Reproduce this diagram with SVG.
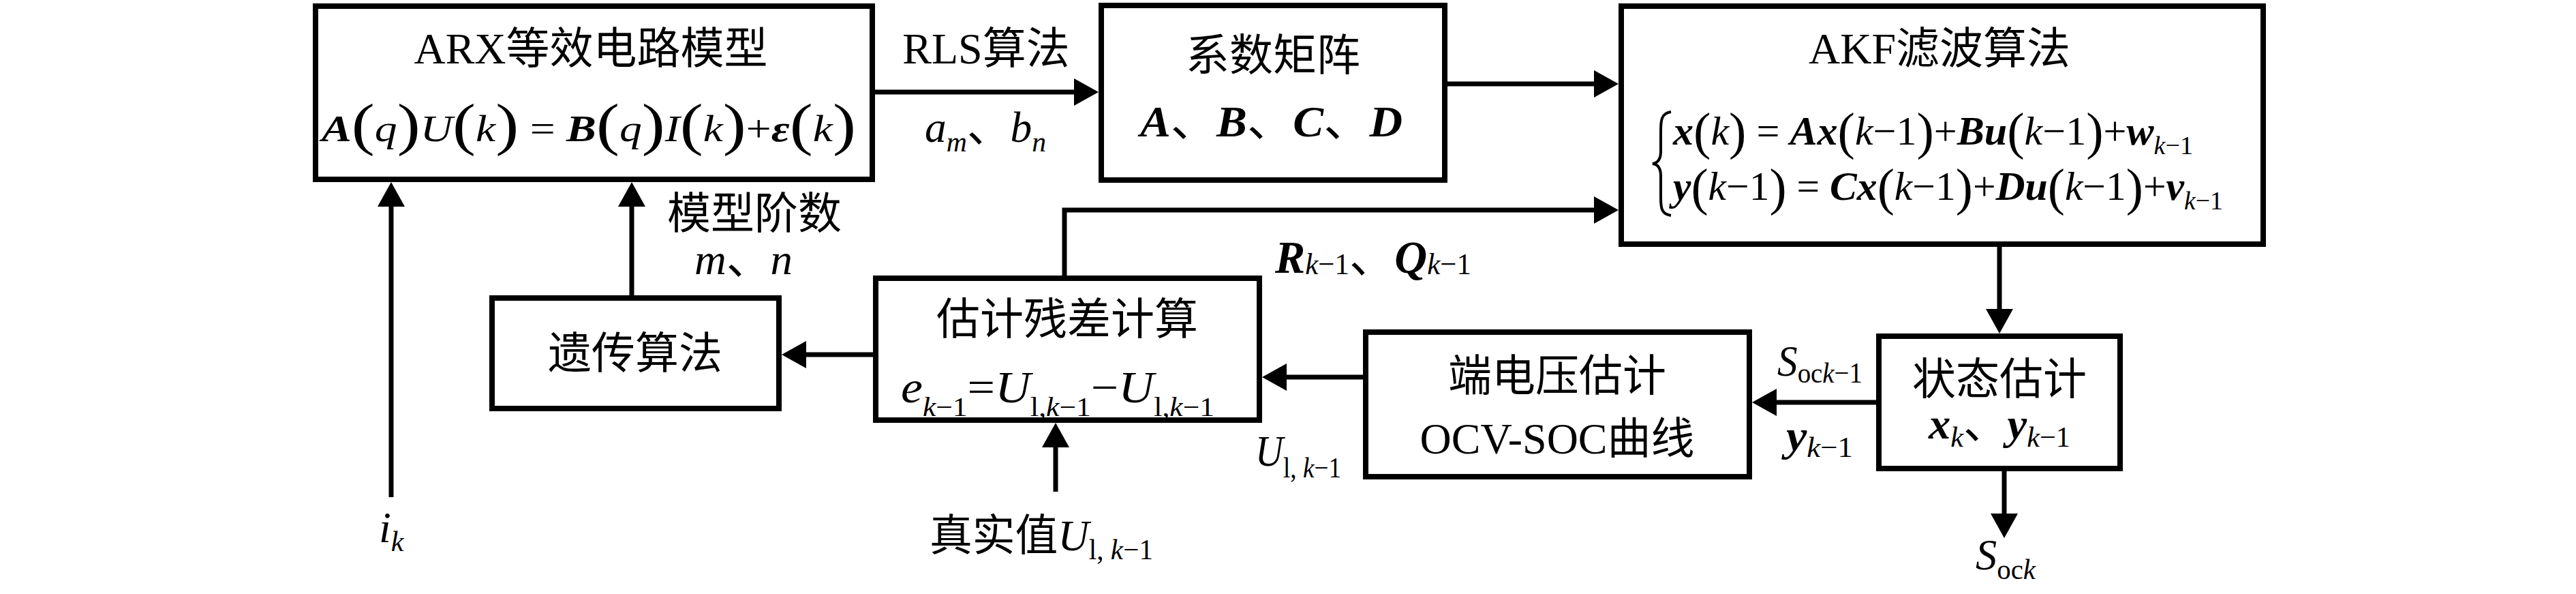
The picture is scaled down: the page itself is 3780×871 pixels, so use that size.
<svg xmlns="http://www.w3.org/2000/svg" width="3780" height="871" viewBox="0 0 3780 871">
<style>
text { font-family: "Liberation Serif", "Noto Sans CJK SC", serif; fill: #000; font-size: 64px; }
.i { font-style: italic; }
.b { font-style: italic; font-weight: bold; }
.p { font-size: 84px; font-style: normal; font-weight: normal; }
.p2 { font-size: 76px; font-style: normal; font-weight: normal; }
.s { font-size: 42px; font-style: normal; font-weight: normal; }
.s.i, .s .i { font-style: italic; }
.box { fill: #fff; stroke: #000; stroke-width: 8; }
.ln { fill: none; stroke: #000; stroke-width: 7; marker-end: url(#ah); }
</style>
<defs>
<marker id="ah" markerUnits="userSpaceOnUse" markerWidth="38" markerHeight="40" refX="26" refY="20" orient="auto">
<path d="M0,0 L36,20 L0,40 z" fill="#000"/>
</marker>
</defs>
<rect width="3780" height="871" fill="#fff"/>

<g id="connectors">
<path class="ln" d="M1284,135 H1602"/>
<path class="ln" d="M2124,123 H2365"/>
<path class="ln" d="M2934,362 V479"/>
<path class="ln" d="M2941,691 V779"/>
<path class="ln" d="M2753,590 H2581"/>
<path class="ln" d="M2000,553 H1862"/>
<path class="ln" d="M1281,520 H1157"/>
<path class="ln" d="M927,433 V277"/>
<path class="ln" d="M574,729 V277"/>
<path class="ln" d="M1549,721 V630"/>
<path class="ln" d="M1562,404 V308 H2365"/>
</g>

<g id="n-arx">
<rect class="box" x="463" y="9" width="817" height="254"/>
<text x="867" y="93" text-anchor="middle">ARX等效电路模型</text>
<text x="472" y="207" style="font-size:54px" textLength="784" lengthAdjust="spacingAndGlyphs"><tspan class="b">A</tspan><tspan class="p" dy="4">(</tspan><tspan class="i" dy="-4">q</tspan><tspan class="p" dy="4">)</tspan><tspan class="i" dy="-4">U</tspan><tspan class="p" dy="4">(</tspan><tspan class="i" dy="-4">k</tspan><tspan class="p" dy="4">)</tspan><tspan dy="-4"> = </tspan><tspan class="b">B</tspan><tspan class="p" dy="4">(</tspan><tspan class="i" dy="-4">q</tspan><tspan class="p" dy="4">)</tspan><tspan class="i" dy="-4">I</tspan><tspan class="p" dy="4">(</tspan><tspan class="i" dy="-4">k</tspan><tspan class="p" dy="4">)</tspan><tspan dy="-4">+</tspan><tspan class="b">ε</tspan><tspan class="p" dy="4">(</tspan><tspan class="i" dy="-4">k</tspan><tspan class="p" dy="4">)</tspan></text>
</g>

<g id="n-coef">
<rect class="box" x="1616" y="8" width="504" height="256"/>
<text x="1868" y="103" text-anchor="middle">系数矩阵</text>
<text x="1673" y="200" textLength="385" lengthAdjust="spacingAndGlyphs"><tspan class="b">A</tspan>、<tspan class="b">B</tspan>、<tspan class="b">C</tspan>、<tspan class="b">D</tspan></text>
</g>

<g id="n-akf">
<rect class="box" x="2379" y="9" width="942" height="349"/>
<text x="2846" y="93" text-anchor="middle">AKF滤波算法</text>
<path d="M2452,164 C2438,166 2437,176 2437,192 L2437,222 C2437,233 2433,239 2425,240 C2433,241 2437,247 2437,258 L2437,290 C2437,305 2438,314 2452,316" fill="none" stroke="#000" stroke-width="4"/>
<text x="2455" y="212" style="font-size:60px" textLength="763" lengthAdjust="spacingAndGlyphs"><tspan class="b">x</tspan><tspan class="p2" dy="6">(</tspan><tspan class="i" dy="-6">k</tspan><tspan class="p2" dy="6">)</tspan><tspan dy="-6"> = </tspan><tspan class="b">Ax</tspan><tspan class="p2" dy="6">(</tspan><tspan class="i" dy="-6">k</tspan><tspan>−1</tspan><tspan class="p2" dy="6">)</tspan><tspan dy="-6">+</tspan><tspan class="b">Bu</tspan><tspan class="p2" dy="6">(</tspan><tspan class="i" dy="-6">k</tspan><tspan>−1</tspan><tspan class="p2" dy="6">)</tspan><tspan dy="-6">+</tspan><tspan class="b">w</tspan><tspan class="s" style="font-size:38px" dy="14"><tspan class="i">k</tspan>−1</tspan></text>
<text x="2455" y="293" style="font-size:60px" textLength="807" lengthAdjust="spacingAndGlyphs"><tspan class="b">y</tspan><tspan class="p2" dy="7">(</tspan><tspan class="i" dy="-7">k</tspan><tspan>−1</tspan><tspan class="p2" dy="7">)</tspan><tspan dy="-7"> = </tspan><tspan class="b">Cx</tspan><tspan class="p2" dy="7">(</tspan><tspan class="i" dy="-7">k</tspan><tspan>−1</tspan><tspan class="p2" dy="7">)</tspan><tspan dy="-7">+</tspan><tspan class="b">Du</tspan><tspan class="p2" dy="7">(</tspan><tspan class="i" dy="-7">k</tspan><tspan>−1</tspan><tspan class="p2" dy="7">)</tspan><tspan dy="-7">+</tspan><tspan class="b">v</tspan><tspan class="s" style="font-size:38px" dy="14"><tspan class="i">k</tspan>−1</tspan></text>
</g>

<g id="n-state">
<rect class="box" x="2757" y="493" width="354" height="194"/>
<text x="2934" y="578" text-anchor="middle">状态估计</text>
<text x="2830" y="643" textLength="208" lengthAdjust="spacingAndGlyphs"><tspan class="b">x</tspan><tspan class="s i" dy="12">k</tspan><tspan dy="-12">、</tspan><tspan class="b">y</tspan><tspan class="s" dy="12"><tspan class="i">k</tspan>−1</tspan></text>
</g>

<g id="n-volt">
<rect class="box" x="2004" y="487" width="563" height="212"/>
<text x="2285" y="573" text-anchor="middle">端电压估计</text>
<text x="2285" y="665" text-anchor="middle">OCV-SOC曲线</text>
</g>

<g id="n-resid">
<rect class="box" x="1285" y="408" width="563" height="208"/>
<text x="1566" y="490" text-anchor="middle">估计残差计算</text>
<text x="1322" y="590" style="font-size:66px" textLength="460" lengthAdjust="spacingAndGlyphs"><tspan class="i">e</tspan><tspan class="s" style="font-size:40px" dy="20"><tspan class="i">k</tspan>−1</tspan><tspan dy="-20">=</tspan><tspan class="i">U</tspan><tspan class="s" style="font-size:40px" dy="20">l,<tspan class="i">k</tspan>−1</tspan><tspan dy="-20">−</tspan><tspan class="i">U</tspan><tspan class="s" style="font-size:40px" dy="20">l,<tspan class="i">k</tspan>−1</tspan></text>
</g>

<g id="n-ga">
<rect class="box" x="722" y="437" width="421" height="162"/>
<text x="932" y="540" text-anchor="middle">遗传算法</text>
</g>

<g id="edge-labels">
<text x="1447" y="93" text-anchor="middle">RLS算法</text>
<text x="1357" y="208" textLength="178" lengthAdjust="spacingAndGlyphs"><tspan class="i">a</tspan><tspan class="s i" dy="14">m</tspan><tspan dy="-14">、</tspan><tspan class="i">b</tspan><tspan class="s i" dy="14">n</tspan></text>
<text x="1107" y="335" text-anchor="middle">模型阶数</text>
<text x="1019" y="402" textLength="144" lengthAdjust="spacingAndGlyphs"><tspan class="i">m</tspan>、<tspan class="i">n</tspan></text>
<text x="556" y="795"><tspan class="i">i</tspan><tspan class="s i" dy="13">k</tspan></text>
<text x="1364" y="807" textLength="328" lengthAdjust="spacingAndGlyphs">真实值<tspan class="i">U</tspan><tspan class="s" dy="13">l, <tspan class="i">k</tspan>−1</tspan></text>
<text x="1842" y="683" textLength="126" lengthAdjust="spacingAndGlyphs"><tspan class="i">U</tspan><tspan class="s" dy="17">l, <tspan class="i">k</tspan>−1</tspan></text>
<text x="1871" y="400" style="font-size:68px" textLength="288" lengthAdjust="spacingAndGlyphs"><tspan class="b">R</tspan><tspan class="s" style="font-size:44px" dy="2"><tspan class="i">k</tspan>−1</tspan><tspan dy="-2">、</tspan><tspan class="b">Q</tspan><tspan class="s" style="font-size:44px" dy="2"><tspan class="i">k</tspan>−1</tspan></text>
<text x="2608" y="551" textLength="125" lengthAdjust="spacingAndGlyphs"><tspan class="i">S</tspan><tspan class="s" dy="10">oc<tspan class="i">k</tspan>−1</tspan></text>
<text x="2621" y="660" textLength="98" lengthAdjust="spacingAndGlyphs"><tspan class="b">y</tspan><tspan class="s" dy="10"><tspan class="i">k</tspan>−1</tspan></text>
<text x="2899" y="835" textLength="88" lengthAdjust="spacingAndGlyphs"><tspan class="i">S</tspan><tspan class="s" dy="14">oc<tspan class="i">k</tspan></tspan></text>
</g>
</svg>
